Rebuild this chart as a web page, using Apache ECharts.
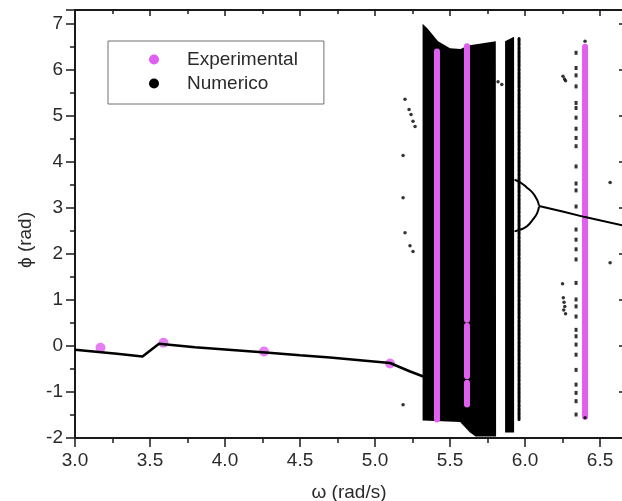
<!DOCTYPE html>
<html>
<head>
<meta charset="utf-8">
<title>Bifurcacion</title>
<script src="https://cdn.jsdelivr.net/npm/echarts@6.0.0/dist/echarts.min.js"></script>
<style>
  html, body { margin: 0; padding: 0; background: #fff; }
  #chart { width: 622px; height: 501px; }
</style>
</head>
<body>
<div id="chart"></div>
<script>
// experimental points (isolated) and vertical runs [omega, phiTop, phiBottom]
const expPoints = [[3.17, -0.04], [3.59, 0.07], [4.26, -0.12], [5.10, -0.38]];
const expColumns = [
  [5.413, 6.40, -1.60],
  [5.613, 6.51, 0.57],
  [5.613, 0.44, -0.66],
  [5.613, -0.80, -1.27],
  [6.40, 6.50, -1.54]
];

// numerical: period-1 branch before chaos
const stableBranch = [
  [3.00, -0.08], [3.28, -0.17], [3.45, -0.23], [3.56, 0.05], [3.80, -0.03],
  [4.27, -0.14], [4.50, -0.20], [4.70, -0.25], [5.10, -0.37], [5.23, -0.55], [5.335, -0.68]
];
// numerical: filled chaotic bands (outline vertices)
const chaosBands = [
  [[5.317, 7.00], [5.35, 6.90], [5.42, 6.62], [5.50, 6.47], [5.57, 6.45], [5.62, 6.53],
   [5.805, 6.62], [5.807, -1.97], [5.67, -1.97], [5.633, -1.88], [5.567, -1.65], [5.317, -1.62]],
  [[5.867, 6.62], [5.927, 6.72], [5.927, -1.88], [5.867, -1.88]]
];
// numerical: dotted vertical run [omega, phiTop, phiBottom]
const numColumns = [[5.96, 6.68, -1.60]];
// numerical: period-2 branches merging and the tail after it
const upperBranch = [[5.93, 3.61], [5.97, 3.55], [6.013, 3.44], [6.05, 3.33], [6.08, 3.18], [6.093, 3.05]];
const lowerBranch = [[5.93, 2.49], [5.97, 2.53], [6.013, 2.60], [6.053, 2.75], [6.08, 2.88], [6.093, 3.03]];
const tailBranch = [[6.093, 3.04], [6.25, 2.92], [6.40, 2.80], [6.653, 2.62]];
// numerical: scattered points
const numPoints = [
  [5.20, 5.36], [5.227, 5.14], [5.24, 5.03], [5.253, 4.88], [5.267, 4.77], [5.187, 4.14],
  [5.187, 3.22], [5.20, 2.46], [5.233, 2.18], [5.253, 2.05], [5.187, -1.28],
  [5.82, 5.74], [5.845, 5.68], [6.253, 5.86], [6.263, 5.80], [6.27, 5.76],
  [6.25, 1.35], [6.255, 1.05], [6.26, 0.95], [6.265, 0.86], [6.258, 0.78], [6.27, 0.70],
  [6.567, 3.55], [6.567, 1.81], [6.40, 6.62], [6.40, -1.56]
];
const dotsOmega = 6.34;
const dotsPhi = [6.37, 6.04, 5.88, 5.64, 5.28, 5.17, 4.96, 4.72, 4.52, 4.34, 3.90, 3.53, 3.38, 3.03,
  2.53, 2.31, 2.10, 1.88, 1.37, 1.01, 0.86, 0.64, 0.35, 0.21, 0.03, -0.19, -0.52, -0.84, -1.02, -1.20, -1.49];

const pink = '#e05ef0';
const font = 'Liberation Sans, Arial, sans-serif';

let myChart = echarts.init(document.getElementById('chart'));

function columnItem(color, width, dash) {
  return function (params, api) {
    var top = api.coord([api.value(0), api.value(1)]);
    var bottom = api.coord([api.value(0), api.value(2)]);
    return {
      type: 'line',
      shape: { x1: top[0], y1: top[1], x2: bottom[0], y2: bottom[1] },
      style: { stroke: color, lineWidth: width, lineCap: 'round', lineDash: dash }
    };
  };
}

const xLabel = (v) => (Math.abs(v * 2 - Math.round(v * 2)) < 1e-6 ? v.toFixed(1) : '');
const yLabel = (v) => (Math.abs(v - Math.round(v)) < 1e-6 ? String(Math.round(v)) : '');

myChart.setOption({
  animation: false,
  textStyle: { fontFamily: font },
  grid: { left: 75, top: 10, width: 548, height: 428, outerBoundsMode: 'none' },
  legend: {
    orient: 'vertical',
    left: 108,
    top: 41,
    padding: [9, 26, 11, 41],
    itemGap: 5,
    itemWidth: 10,
    itemHeight: 10,
    borderColor: '#707070',
    borderWidth: 1,
    textStyle: { fontSize: 19, lineHeight: 19, color: '#2a2a2a', padding: [0, 0, 0, 23] },
    data: [
      { name: 'Experimental', icon: 'circle', itemStyle: { color: pink } },
      { name: 'Numerico', icon: 'circle', itemStyle: { color: '#000' } }
    ]
  },
  xAxis: [
    {
      type: 'value', min: 3, max: 6.653, interval: 0.5,
      name: 'ω (rad/s)', nameLocation: 'middle', nameGap: 45,
      nameTextStyle: { fontSize: 19, color: '#2a2a2a' },
      axisLine: { onZero: false, lineStyle: { color: '#1a1a1a', width: 2 } },
      axisTick: { length: 9, lineStyle: { color: '#1a1a1a', width: 1.5 } },
      minorTick: { show: true, splitNumber: 2, length: 5, lineStyle: { color: '#1a1a1a', width: 1.5 } },
      axisLabel: { fontSize: 19, color: '#2a2a2a', margin: 13, formatter: xLabel },
      splitLine: { show: false }
    },
    {
      type: 'value', position: 'top', min: 3, max: 6.653, interval: 0.5,
      axisLine: { onZero: false, lineStyle: { color: '#1a1a1a', width: 2 } },
      axisTick: { inside: true, length: 6, lineStyle: { color: '#1a1a1a', width: 1.5 } },
      minorTick: { show: true, splitNumber: 2, length: 4, lineStyle: { color: '#1a1a1a', width: 1.5 } },
      axisLabel: { show: false },
      splitLine: { show: false }
    }
  ],
  yAxis: [
    {
      type: 'value', min: -2, max: 7.3, interval: 1,
      name: 'ϕ (rad)', nameLocation: 'middle', nameGap: 40,
      nameTextStyle: { fontSize: 19, color: '#2a2a2a', padding: [0, 32, 0, 0] },
      axisLine: { onZero: false, lineStyle: { color: '#1a1a1a', width: 2 } },
      axisTick: { length: 9, lineStyle: { color: '#1a1a1a', width: 1.5 } },
      minorTick: { show: true, splitNumber: 2, length: 5, lineStyle: { color: '#1a1a1a', width: 1.5 } },
      axisLabel: { fontSize: 19, color: '#2a2a2a', margin: 12, formatter: yLabel },
      splitLine: { show: false }
    },
    {
      type: 'value', position: 'right', min: -2, max: 7.3, interval: 1,
      axisLine: { onZero: false, lineStyle: { color: '#1a1a1a', width: 2 } },
      axisTick: { inside: true, length: 4, lineStyle: { color: '#1a1a1a', width: 1.5 } },
      axisLabel: { show: false },
      splitLine: { show: false }
    }
  ],
  series: [
    {
      name: 'Numerico', type: 'custom', itemStyle: { color: '#000' },
      data: chaosBands.map((b) => b[0]),
      renderItem: function (params, api) {
        var band = chaosBands[params.dataIndex];
        return {
          type: 'polygon',
          shape: { points: band.map((p) => api.coord(p)) },
          style: { fill: '#000' }
        };
      }
    },
    {
      name: 'Numerico', type: 'custom', itemStyle: { color: '#000' },
      encode: { x: 0, y: [1, 2] },
      data: numColumns,
      renderItem: columnItem('#000', 3, [3, 1.2])
    },
    {
      name: 'Numerico', type: 'line', data: stableBranch, symbol: 'none',
      lineStyle: { color: '#000', width: 2.5 }, itemStyle: { color: '#000' }
    },
    {
      name: 'Numerico', type: 'line', data: upperBranch, symbol: 'none', smooth: true,
      lineStyle: { color: '#000', width: 2 }, itemStyle: { color: '#000' }
    },
    {
      name: 'Numerico', type: 'line', data: lowerBranch, symbol: 'none', smooth: true,
      lineStyle: { color: '#000', width: 2 }, itemStyle: { color: '#000' }
    },
    {
      name: 'Numerico', type: 'line', data: tailBranch, symbol: 'none',
      lineStyle: { color: '#000', width: 2 }, itemStyle: { color: '#000' }
    },
    {
      name: 'Numerico', type: 'scatter', data: numPoints, symbolSize: 3.5,
      itemStyle: { color: '#000' }
    },
    {
      name: 'Numerico', type: 'scatter', symbol: 'rect', symbolSize: [3, 4],
      data: dotsPhi.map((p) => [dotsOmega, p]),
      itemStyle: { color: '#000' }
    },
    {
      name: 'Experimental', type: 'custom', itemStyle: { color: pink },
      encode: { x: 0, y: [1, 2] },
      data: expColumns,
      renderItem: columnItem(pink, 6, null)
    },
    {
      name: 'Experimental', type: 'scatter', data: expPoints, symbolSize: 10,
      itemStyle: { color: pink }
    }
  ]
});

window.onresize = function () {
  myChart.resize();
};
</script>
</body>
</html>
